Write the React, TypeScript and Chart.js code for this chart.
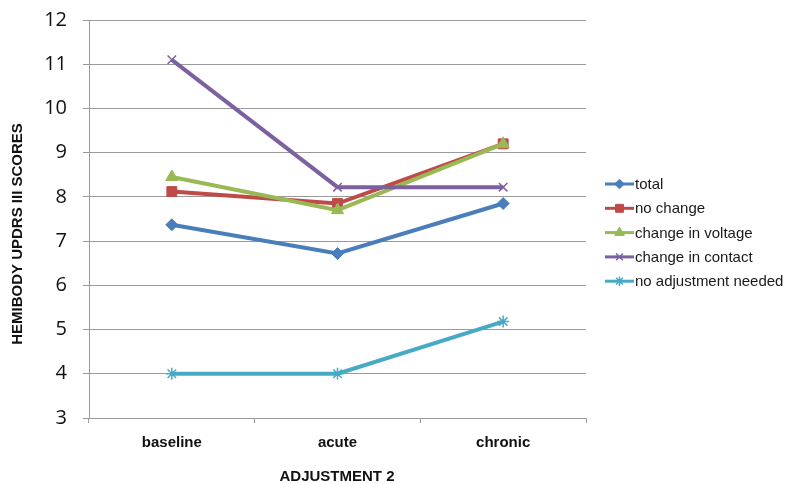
import React, { useEffect, useRef } from "react";
import { Chart, registerables } from "chart.js";
import { drawPoint } from "chart.js/helpers";

Chart.register(...registerables);

// Hemibody UPDRS III scores by phase of adjustment
const categories = ["baseline", "acute", "chronic"];
const total = [7.37, 6.72, 7.85];
const noChange = [8.12, 7.85, 9.2];
const changeInVoltage = [8.45, 7.7, 9.2];
const changeInContact = [11.1, 8.22, 8.22];
const noAdjustmentNeeded = [4.0, 4.0, 5.18];
const yMin = 3;
const yMax = 12;
const yStep = 1;

const seriesNames = [
  "total",
  "no change",
  "change in voltage",
  "change in contact",
  "no adjustment needed",
];
const seriesValues = [total, noChange, changeInVoltage, changeInContact, noAdjustmentNeeded];
const seriesColors = ["#4a7ebb", "#be4b48", "#98b954", "#7d60a0", "#46aac5"];
const seriesMarkers = ["rectRot", "rect", "triangle", "crossRot", "star"];
const markerRadius = [6, 7, 7, 6, 6];
const markerBorder = [1, 1, 1, 1.5, 1.5];

const FONT = "'Liberation Sans', Arial, sans-serif";

const chartArea = { left: 89, right: 586, top: 20, bottom: 418 };

const decorations = {
  id: "decorations",
  afterDraw(chart: any) {
    const ctx = chart.ctx as CanvasRenderingContext2D;
    ctx.save();
    // axis titles
    ctx.fillStyle = "#111";
    ctx.font = `bold 15px ${FONT}`;
    ctx.textAlign = "center";
    ctx.textBaseline = "middle";
    ctx.fillText("ADJUSTMENT 2", 337, 477);
    ctx.save();
    ctx.translate(18, 234);
    ctx.rotate(-Math.PI / 2);
    ctx.fillText("HEMIBODY UPDRS III SCORES", 0, 0);
    ctx.restore();

    // legend: line sample with marker, then label
    seriesNames.forEach((name, i) => {
      const y = 184 + i * 24.3;
      const color = seriesColors[i];
      ctx.strokeStyle = color;
      ctx.fillStyle = color;
      ctx.lineWidth = 3;
      ctx.beginPath();
      ctx.moveTo(605, y);
      ctx.lineTo(634, y);
      ctx.stroke();
      ctx.lineWidth = markerBorder[i];
      drawPoint(
        ctx,
        {
          pointStyle: seriesMarkers[i],
          radius: markerRadius[i] * 0.8,
          borderWidth: markerBorder[i],
          rotation: 0,
        } as any,
        619.5,
        y
      );
      ctx.fillStyle = "#1a1a1a";
      ctx.font = `15px ${FONT}`;
      ctx.textAlign = "left";
      ctx.textBaseline = "middle";
      ctx.fillText(name, 635, y + 1);
    });
    ctx.restore();
  },
};

export default function App() {
  const canvasRef = useRef<HTMLCanvasElement | null>(null);

  useEffect(() => {
    document.body.style.margin = "0";
    const canvas = canvasRef.current;
    if (!canvas) return;

    const datasets = seriesNames.map((name, i) => ({
      label: name,
      data: seriesValues[i],
      borderColor: seriesColors[i],
      backgroundColor: seriesColors[i],
      borderWidth: 4,
      pointStyle: seriesMarkers[i] as any,
      pointRadius: markerRadius[i],
      pointBorderWidth: markerBorder[i],
      pointBackgroundColor: seriesColors[i],
      pointBorderColor: seriesColors[i],
      tension: 0,
      order: seriesNames.length - i,
    }));

    const chart = new Chart(canvas, {
      type: "line",
      data: { labels: categories, datasets },
      options: {
        animation: false,
        responsive: false,
        devicePixelRatio: 1,
        layout: {
          padding: {
            left: 0,
            top: chartArea.top,
            right: 787 - chartArea.right,
            bottom: 0,
          },
        },
        plugins: {
          legend: { display: false },
          tooltip: { enabled: false },
        },
        scales: {
          x: {
            type: "category",
            offset: true,
            afterFit(scale: any) {
              scale.height = 484 - chartArea.bottom;
              scale.paddingLeft = 0;
              scale.paddingRight = 0;
            },
            grid: {
              drawOnChartArea: false,
              drawTicks: true,
              tickLength: 5,
              color: "#9a9a9a",
              offset: true,
            },
            border: { color: "#9a9a9a", width: 1 },
            ticks: {
              color: "#111",
              font: { family: FONT, size: 15, weight: "bold" },
              padding: 11,
            },
          },
          y: {
            min: yMin,
            max: yMax,
            afterFit(scale: any) {
              scale.width = chartArea.left;
              scale.paddingTop = 0;
              scale.paddingBottom = 0;
            },
            grid: {
              color: "#9a9a9a",
              tickLength: 6,
              lineWidth: 1,
            },
            border: { color: "#9a9a9a", width: 1 },
            ticks: {
              stepSize: yStep,
              color: "#111",
              font: { family: "'Open Sans', sans-serif", size: 20 },
              padding: 16,
            },
          },
        },
      },
      plugins: [decorations],
    });

    return () => chart.destroy();
  }, []);

  return (
    <div style={{ width: 787, height: 484, background: "#fff" }}>
      <canvas ref={canvasRef} width={787} height={484} style={{ display: "block" }} />
    </div>
  );
}
